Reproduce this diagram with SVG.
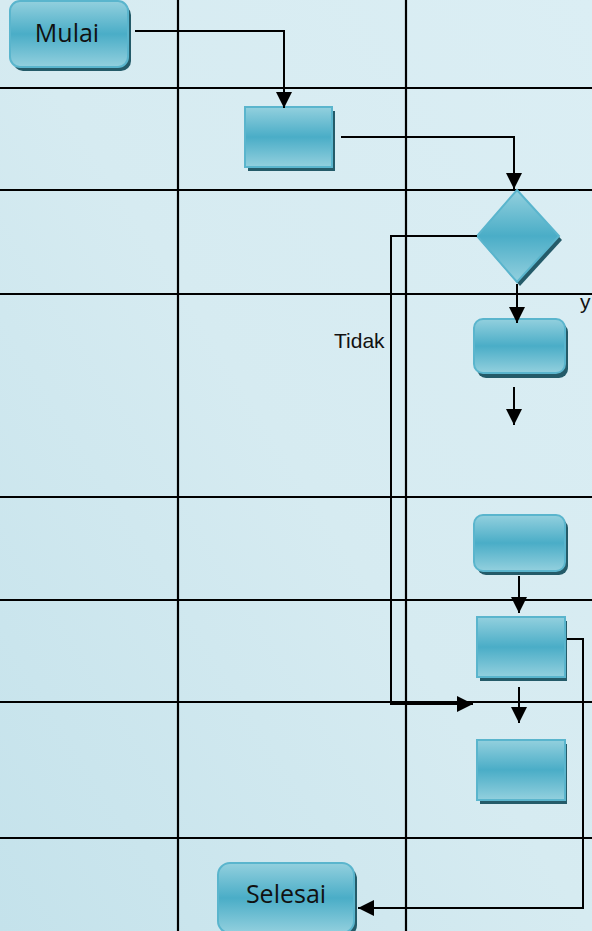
<svg xmlns="http://www.w3.org/2000/svg" width="592" height="931" viewBox="0 0 592 931">
  <defs>
    <linearGradient id="bg" x1="1" y1="0" x2="0" y2="1">
      <stop offset="0" stop-color="#dbeef4"/>
      <stop offset="0.5" stop-color="#d6ebf1"/>
      <stop offset="1" stop-color="#c4e2eb"/>
    </linearGradient>
    <linearGradient id="nodeFill" x1="0" y1="0" x2="0" y2="1">
      <stop offset="0" stop-color="#93d0de"/>
      <stop offset="0.5" stop-color="#4aadc7"/>
      <stop offset="1" stop-color="#93d0de"/>
    </linearGradient>
    <marker id="arr" viewBox="0 0 16 16" refX="16" refY="8" markerWidth="16" markerHeight="16" markerUnits="userSpaceOnUse" orient="auto">
      <path d="M0,0 L16,8 L0,16 z" fill="#000"/>
    </marker>
  </defs>
  <style>
    .grid { stroke: #000; stroke-width: 2.2; fill: none; }
    .node { fill: url(#nodeFill); stroke: #5ab5cd; stroke-width: 2; }
    .shadow { fill: #245b69; }
    .flow { stroke: #000; stroke-width: 2; fill: none; }
    .term { font-family: "Open Sans", "Noto Sans", sans-serif; font-size: 25px; fill: #111; text-anchor: middle; }
    .lbl { font-family: "Liberation Sans", Arial, sans-serif; font-size: 21px; fill: #111; }
  </style>

  <rect x="0" y="0" width="592" height="931" fill="url(#bg)"/>

  <g id="grid">
    <line class="grid" x1="0" y1="88" x2="592" y2="88"/>
    <line class="grid" x1="0" y1="190" x2="592" y2="190"/>
    <line class="grid" x1="0" y1="294" x2="592" y2="294"/>
    <line class="grid" x1="0" y1="497" x2="592" y2="497"/>
    <line class="grid" x1="0" y1="600" x2="592" y2="600"/>
    <line class="grid" x1="0" y1="702" x2="592" y2="702"/>
    <line class="grid" x1="0" y1="838" x2="592" y2="838"/>
    <line class="grid" x1="178" y1="0" x2="178" y2="931"/>
    <line class="grid" x1="406" y1="0" x2="406" y2="931"/>
  </g>

  <g id="node-mulai">
    <rect class="shadow" x="13" y="5" width="118" height="66" rx="10"/>
    <rect class="node" x="10" y="1" width="118" height="66" rx="10"/>
    <text class="term" x="67" y="42">Mulai</text>
  </g>

  <g id="node-proses1">
    <rect class="shadow" x="248" y="111" width="87" height="60"/>
    <rect class="node" x="245" y="107" width="87" height="60"/>
  </g>

  <g id="node-keputusan">
    <path class="shadow" d="M520,194 L562,240 L520,286 L480,240 z"/>
    <path class="node" d="M517,190 L559,236 L517,282 L477,236 z"/>
  </g>

  <g id="node-proses2">
    <rect class="shadow" x="477" y="323" width="91" height="55" rx="9"/>
    <rect class="node" x="474" y="319" width="91" height="54" rx="9"/>
  </g>

  <g id="node-proses3">
    <rect class="shadow" x="477" y="519" width="91" height="56" rx="9"/>
    <rect class="node" x="474" y="515" width="91" height="56" rx="9"/>
  </g>

  <g id="node-proses4">
    <rect class="shadow" x="480" y="621" width="87" height="60"/>
    <rect class="node" x="477" y="617" width="88" height="60"/>
  </g>

  <g id="node-proses5">
    <rect class="shadow" x="480" y="744" width="87" height="60"/>
    <rect class="node" x="477" y="740" width="88" height="60"/>
  </g>

  <g id="node-selesai">
    <rect class="shadow" x="221" y="867" width="136" height="70" rx="12"/>
    <rect class="node" x="218" y="863" width="136" height="70" rx="12"/>
    <text class="term" x="286" y="903">Selesai</text>
  </g>

  <g id="connectors">
    <path class="flow" d="M135,31 H284 V108" marker-end="url(#arr)"/>
    <path class="flow" d="M341,137 H514 V189" marker-end="url(#arr)"/>
    <path class="flow" d="M517,284 V323" marker-end="url(#arr)"/>
    <path class="flow" d="M514,387 V425" marker-end="url(#arr)"/>
    <path class="flow" d="M519,576 V613" marker-end="url(#arr)"/>
    <path class="flow" d="M519,687 V723" marker-end="url(#arr)"/>
    <path class="flow" d="M477,236 H391 V704 H473" marker-end="url(#arr)"/>
    <path class="flow" d="M567,639 H583 V908 H358" marker-end="url(#arr)"/>
  </g>

  <g id="labels">
    <text class="lbl" x="334" y="348">Tidak</text>
    <text class="lbl" x="580" y="309">y</text>
  </g>
</svg>
